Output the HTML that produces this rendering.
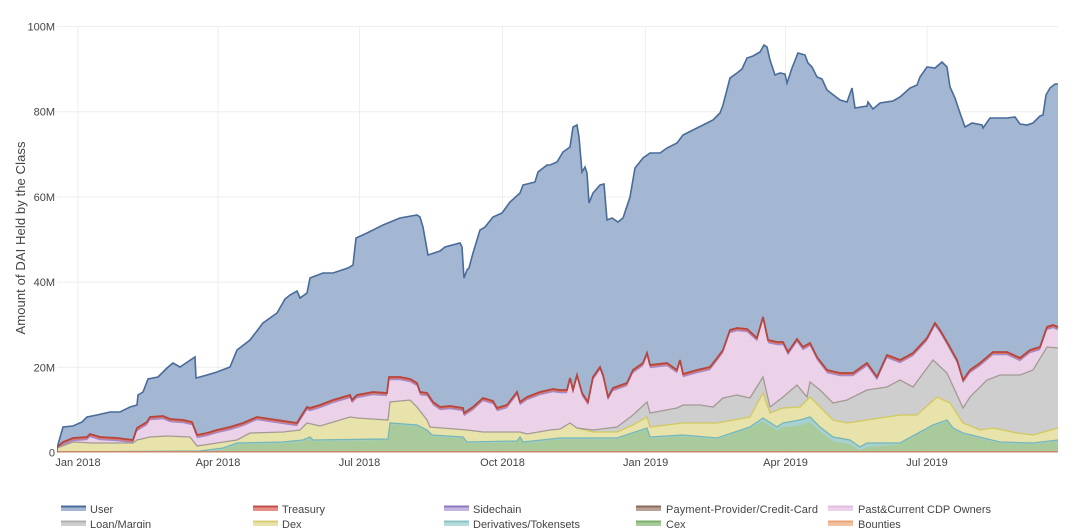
<!DOCTYPE html>
<html><head><meta charset="utf-8"><style>
html,body{margin:0;padding:0;background:#fff;}
svg{display:block;font-family:"Liberation Sans",Arial,sans-serif;}
</style></head><body>
<svg width="1080" height="528" viewBox="0 0 1080 528" xmlns="http://www.w3.org/2000/svg">
<rect width="1080" height="528" fill="#fff"/>
<defs>
<clipPath id="pc"><rect x="57" y="0" width="1002" height="452.5"/></clipPath>
<polygon id="red" points="57,447 63,442 73,438 87,437 90,434 100,437 117,438 133,440 137,428 147,422 150,417 163,416 170,419 183,420 192,422 197,435 207,433 217,430 230,427 243,423 257,417 277,420 297,423 300,418 307,407 310,408 320,405 333,400 350,395 352,400 357,395 373,392 387,393 389,377 400,377 410,379 417,383 420,392 427,393 433,402 440,407 450,406 463,408 464,413 473,407 483,398 493,401 497,408 507,405 517,392 520,402 527,397 540,392 553,389 560,390 567,390 570,378 573,390 577,375 582,393 588,402 593,377 600,367 603,375 608,397 613,388 627,383 633,370 643,363 647,353 650,365 667,363 677,370 680,360 683,374 697,370 710,367 717,358 723,350 730,330 737,328 747,329 757,338 763,317 768,340 777,342 783,342 788,352 797,339 803,347 810,343 817,357 827,370 840,373 853,373 867,363 877,377 887,355 900,360 913,353 927,338 935,323 940,330 947,342 957,360 963,380 970,370 980,363 993,352 1007,352 1020,358 1030,350 1040,347 1047,327 1053,325 1058,327 1058,460 57,460"/>
</defs>
<!-- gridlines -->
<g stroke="#eeeeee" stroke-width="1">
<line x1="57" y1="26.5" x2="1058" y2="26.5"/>
<line x1="57" y1="111.7" x2="1058" y2="111.7"/>
<line x1="57" y1="196.9" x2="1058" y2="196.9"/>
<line x1="57" y1="282.1" x2="1058" y2="282.1"/>
<line x1="57" y1="367.3" x2="1058" y2="367.3"/>
<line x1="78" y1="26" x2="78" y2="453"/>
<line x1="218" y1="26" x2="218" y2="453"/>
<line x1="359.5" y1="26" x2="359.5" y2="453"/>
<line x1="502.5" y1="26" x2="502.5" y2="453"/>
<line x1="645.6" y1="26" x2="645.6" y2="453"/>
<line x1="785.5" y1="26" x2="785.5" y2="453"/>
<line x1="927" y1="26" x2="927" y2="453"/>
</g>
<g clip-path="url(#pc)">
<!-- User area -->
<polygon fill="#a3b6d2" points="57,452.5 57,448 63,427 73,426 82,422 87,417 97,415 110,412 120,412 130,407 137,405 138,395 143,392 148,379 158,377 167,368 173,363 180,367 183,365 195,357 196,378 207,375 217,372 230,367 237,350 250,340 263,323 277,313 285,299 290,295 297,291 300,298 307,293 310,278 323,273 333,273 348,268 353,265 356,238 367,233 383,225 400,218 417,215 420,217 423,227 428,255 440,251 445,247 460,243 462,247 464,278 467,270 469,268 473,253 480,230 485,227 493,217 502,213 510,202 520,193 523,185 535,182 538,172 547,165 550,165 557,162 563,152 570,147 573,127 577,125 579,137 582,172 585,167 587,173 589,203 593,193 600,185 604,184 607,220 612,218 618,222 623,218 630,197 635,168 643,158 650,153 660,153 667,148 677,143 683,135 693,130 703,125 713,120 720,113 723,105 730,78 737,73 742,69 747,58 753,56 760,52 764,45 767,47 770,60 775,75 780,73 785,74 787,83 792,68 798,53 805,55 808,63 812,67 817,77 822,79 827,90 840,100 847,102 852,88 855,108 867,106 868,102 873,109 880,103 893,101 900,97 910,88 917,85 920,77 927,67 935,68 942,62 947,67 950,87 955,98 960,113 965,127 972,123 982,125 983,128 990,118 1007,118 1015,117 1020,124 1027,125 1033,123 1040,116 1043,115 1046,95 1050,88 1055,84 1058,84 1058,452.5"/>
<!-- Treasury / Sidechain / CDP -->
<use href="#red" fill="#d8766a"/>
<use href="#red" fill="#a08bd0" transform="translate(0,2)"/>
<use href="#red" fill="#ebd2e9" transform="translate(0,3.2)"/>
<!-- Loan/Margin -->
<polygon fill="#cecece" points="57,448 73,442 93,443 133,443 137,440 150,437 167,436 190,437 197,446 217,443 237,440 250,433 283,432 300,430 307,423 320,426 350,417 357,418 388,420 390,402 410,400 417,407 427,420 430,427 467,430 483,432 520,432 527,434 550,430 560,429 570,423 577,428 593,430 617,427 633,415 647,402 650,413 677,408 683,405 700,405 713,407 723,398 737,395 750,398 763,377 770,407 783,397 797,385 807,397 810,382 820,390 833,403 847,400 867,390 887,387 900,380 913,387 933,360 947,373 963,408 970,397 987,380 1000,375 1020,375 1033,370 1047,347 1058,348 1058,460 57,460"/>
<!-- Dex -->
<polygon fill="#e7e3ab" points="57,448 73,442 93,443 133,443 137,440 150,437 167,436 190,437 197,446 217,443 237,440 250,433 283,432 300,430 307,423 320,426 350,417 357,418 388,420 390,402 410,400 417,407 427,420 430,427 467,430 483,432 520,432 527,434 550,430 560,429 570,423 577,428 593,432 617,432 633,425 647,417 650,427 683,423 717,423 750,417 763,393 770,413 783,408 800,407 810,397 813,400 833,420 847,423 867,420 900,415 917,415 937,397 950,403 963,423 980,430 993,428 1017,433 1033,435 1058,428 1058,460 57,460"/>
<!-- Derivatives / Cex -->
<polygon fill="#a6d1cf" points="57,452 200,451 223,448 237,443 283,442 303,440 310,437 313,440 388,439 390,423 417,425 427,430 432,435 463,437 467,442 517,441 520,437 523,442 560,438 577,438 617,438 647,428 650,437 683,435 717,438 750,427 763,418 777,427 783,423 800,420 810,417 820,427 833,437 850,440 860,447 867,443 900,443 933,425 947,420 953,428 963,433 1000,442 1033,443 1058,440 1058,460 57,460"/>
<polygon fill="#a9cb9c" transform="translate(0,1.2)" points="57,452 200,451 223,448 237,443 283,442 303,440 310,437 313,440 388,439 390,423 417,425 427,430 432,435 463,437 467,442 517,441 520,437 523,442 560,438 577,438 617,438 647,428 650,437 683,435 717,438 750,427 763,420 777,429 783,426 800,424 810,421 820,430 833,440 850,443 860,449 867,446 900,443 933,425 947,420 953,428 963,433 1000,442 1033,443 1058,440 1058,460 57,460"/>
<!-- lines -->
<polyline fill="none" stroke="#76b6b4" stroke-width="1.3" points="57,452 200,451 223,448 237,443 283,442 303,440 310,437 313,440 388,439 390,423 417,425 427,430 432,435 463,437 467,442 517,441 520,437 523,442 560,438 577,438 617,438 647,428 650,437 683,435 717,438 750,427 763,418 777,427 783,423 800,420 810,417 820,427 833,437 850,440 860,447 867,443 900,443 933,425 947,420 953,428 963,433 1000,442 1033,443 1058,440"/>
<polyline fill="none" stroke="#d2c85e" stroke-width="1.3" points="577,428 593,432 617,432 633,425 647,417 650,427 683,423 717,423 750,417 763,393 770,413 783,408 800,407 810,397 813,400 833,420 847,423 867,420 900,415 917,415 937,397 950,403 963,423 980,430 993,428 1017,433 1033,435 1058,428"/>
<polyline fill="none" stroke="#a39a94" stroke-width="1.3" points="57,448 73,442 93,443 133,443 137,440 150,437 167,436 190,437 197,446 217,443 237,440 250,433 283,432 300,430 307,423 320,426 350,417 357,418 388,420 390,402 410,400 417,407 427,420 430,427 467,430 483,432 520,432 527,434 550,430 560,429 570,423 577,428 593,430 617,427 633,415 647,402 650,413 677,408 683,405 700,405 713,407 723,398 737,395 750,398 763,377 770,407 783,397 797,385 807,397 810,382 820,390 833,403 847,400 867,390 887,387 900,380 913,387 933,360 947,373 963,408 970,397 987,380 1000,375 1020,375 1033,370 1047,347 1058,348"/>
<line x1="57" y1="451.8" x2="1058" y2="451.8" stroke="#c8866a" stroke-width="1.5"/>
<polyline fill="none" stroke="#b5453e" stroke-width="1.8" points="57,447 63,442 73,438 87,437 90,434 100,437 117,438 133,440 137,428 147,422 150,417 163,416 170,419 183,420 192,422 197,435 207,433 217,430 230,427 243,423 257,417 277,420 297,423 300,418 307,407 310,408 320,405 333,400 350,395 352,400 357,395 373,392 387,393 389,377 400,377 410,379 417,383 420,392 427,393 433,402 440,407 450,406 463,408 464,413 473,407 483,398 493,401 497,408 507,405 517,392 520,402 527,397 540,392 553,389 560,390 567,390 570,378 573,390 577,375 582,393 588,402 593,377 600,367 603,375 608,397 613,388 627,383 633,370 643,363 647,353 650,365 667,363 677,370 680,360 683,374 697,370 710,367 717,358 723,350 730,330 737,328 747,329 757,338 763,317 768,340 777,342 783,342 788,352 797,339 803,347 810,343 817,357 827,370 840,373 853,373 867,363 877,377 887,355 900,360 913,353 927,338 935,323 940,330 947,342 957,360 963,380 970,370 980,363 993,352 1007,352 1020,358 1030,350 1040,347 1047,327 1053,325 1058,327"/>
<polyline fill="none" stroke="#496b9a" stroke-width="1.6" points="57,452.5 57,448 63,427 73,426 82,422 87,417 97,415 110,412 120,412 130,407 137,405 138,395 143,392 148,379 158,377 167,368 173,363 180,367 183,365 195,357 196,378 207,375 217,372 230,367 237,350 250,340 263,323 277,313 285,299 290,295 297,291 300,298 307,293 310,278 323,273 333,273 348,268 353,265 356,238 367,233 383,225 400,218 417,215 420,217 423,227 428,255 440,251 445,247 460,243 462,247 464,278 467,270 469,268 473,253 480,230 485,227 493,217 502,213 510,202 520,193 523,185 535,182 538,172 547,165 550,165 557,162 563,152 570,147 573,127 577,125 579,137 582,172 585,167 587,173 589,203 593,193 600,185 604,184 607,220 612,218 618,222 623,218 630,197 635,168 643,158 650,153 660,153 667,148 677,143 683,135 693,130 703,125 713,120 720,113 723,105 730,78 737,73 742,69 747,58 753,56 760,52 764,45 767,47 770,60 775,75 780,73 785,74 787,83 792,68 798,53 805,55 808,63 812,67 817,77 822,79 827,90 840,100 847,102 852,88 855,108 867,106 868,102 873,109 880,103 893,101 900,97 910,88 917,85 920,77 927,67 935,68 942,62 947,67 950,87 955,98 960,113 965,127 972,123 982,125 983,128 990,118 1007,118 1015,117 1020,124 1027,125 1033,123 1040,116 1043,115 1046,95 1050,88 1055,84 1058,84"/>
</g>
<!-- y tick labels -->
<g font-size="11" fill="#444" text-anchor="end">
<text x="55" y="30.5">100M</text>
<text x="55" y="115.7">80M</text>
<text x="55" y="200.9">60M</text>
<text x="55" y="286.1">40M</text>
<text x="55" y="371.3">20M</text>
<text x="55" y="456.5">0</text>
</g>
<!-- x tick labels -->
<g font-size="11" fill="#444" text-anchor="middle">
<text x="78" y="466">Jan 2018</text>
<text x="218" y="466">Apr 2018</text>
<text x="359.5" y="466">Jul 2018</text>
<text x="502.5" y="466">Oct 2018</text>
<text x="645.6" y="466">Jan 2019</text>
<text x="785.5" y="466">Apr 2019</text>
<text x="927" y="466">Jul 2019</text>
</g>
<text transform="translate(25,238) rotate(-90)" font-size="13" fill="#444" text-anchor="middle" textLength="193">Amount of DAI Held by the Class</text>
<!-- legend -->
<g font-size="11" fill="#444">
<rect x="61" y="506" width="25" height="5" fill="#a3b6d2"/><line x1="61" y1="506.5" x2="86" y2="506.5" stroke="#496b9a" stroke-width="2"/>
<text x="90" y="513">User</text>
<rect x="253" y="506" width="25" height="5" fill="#e58f86"/><line x1="253" y1="506.5" x2="278" y2="506.5" stroke="#c0504d" stroke-width="2"/>
<text x="282" y="513">Treasury</text>
<rect x="444" y="506" width="25" height="5" fill="#c3b6e0"/><line x1="444" y1="506.5" x2="469" y2="506.5" stroke="#8f78c0" stroke-width="2"/>
<text x="473" y="513">Sidechain</text>
<rect x="636" y="506" width="25" height="5" fill="#b8a195"/><line x1="636" y1="506.5" x2="661" y2="506.5" stroke="#8a6b5c" stroke-width="2"/>
<text x="666" y="513" textLength="152">Payment-Provider/Credit-Card</text>
<rect x="828" y="506" width="25" height="5" fill="#ebd2e9"/><line x1="828" y1="506.5" x2="853" y2="506.5" stroke="#e2bde0" stroke-width="2"/>
<text x="858" y="513" textLength="133">Past&amp;Current CDP Owners</text>
<rect x="61" y="521" width="25" height="5" fill="#cecece"/><line x1="61" y1="521.5" x2="86" y2="521.5" stroke="#b0b0b0" stroke-width="2"/>
<text x="90" y="528">Loan/Margin</text>
<rect x="253" y="521" width="25" height="5" fill="#e7e3ab"/><line x1="253" y1="521.5" x2="278" y2="521.5" stroke="#d8cf7a" stroke-width="2"/>
<text x="282" y="528">Dex</text>
<rect x="444" y="521" width="25" height="5" fill="#b7dcdc"/><line x1="444" y1="521.5" x2="469" y2="521.5" stroke="#8cc4c6" stroke-width="2"/>
<text x="473" y="528">Derivatives/Tokensets</text>
<rect x="636" y="521" width="25" height="5" fill="#a9cb9c"/><line x1="636" y1="521.5" x2="661" y2="521.5" stroke="#7bb06a" stroke-width="2"/>
<text x="666" y="528">Cex</text>
<rect x="828" y="521" width="25" height="5" fill="#f2c2a0"/><line x1="828" y1="521.5" x2="853" y2="521.5" stroke="#e8a57a" stroke-width="2"/>
<text x="858" y="528">Bounties</text>
</g>
</svg>
</body></html>
